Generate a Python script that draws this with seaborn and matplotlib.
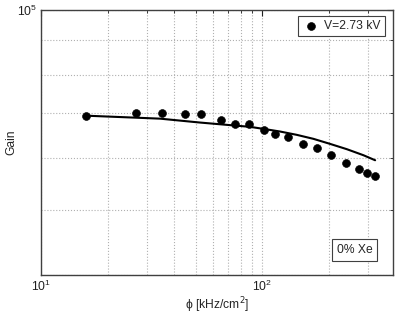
import numpy as np
import pandas as pd
import matplotlib
matplotlib.use("Agg")
import matplotlib.pyplot as plt
import matplotlib.ticker as mticker
import seaborn as sns

flusso = [15.9, 26.9, 35.3, 44.9, 52.6, 64.8, 75.5, 86.7, 101.4, 114,
          130, 153, 176.6, 204, 239.7, 272.5, 298, 323]
guadagno = [69400, 70100, 70100, 69800, 69700, 68470, 67450, 67380, 65990, 65230,
            64410, 62870, 62000, 60520, 58870, 57660, 56870, 56350]

# curva del modello
flusso_fit = [15.8, 34.5, 52.3, 71.4, 88.0, 101.0, 120.2, 143.0, 170.0,
              202.2, 240.6, 286.1, 323]
guadagno_fit = [69400, 68680, 67760, 67160, 66760, 66300, 65690, 64940, 64050,
                62940, 61800, 60520, 59480]

df = pd.DataFrame({"phi": flusso, "gain": guadagno})
df_fit = pd.DataFrame({"phi": flusso_fit, "gain": guadagno_fit})

sns.set_style("white")
plt.rcParams['font.family'] = ['Liberation Sans', 'DejaVu Sans']
fs = 8.7

fig = plt.figure(figsize=(4.09, 3.14), dpi=100)
ax = fig.add_axes([0.1002, 0.1242, 0.8595, 0.844])

sns.lineplot(data=df_fit, x="phi", y="gain", color="black", linewidth=1.5, ax=ax,
             estimator=None, sort=False, zorder=3)
sns.scatterplot(data=df, x="phi", y="gain", color="black", s=32, edgecolor="black",
                ax=ax, label="V=2.73 kV", zorder=4)

ax.set_xscale("log")
ax.set_yscale("log")
ax.set_xlim(10, 387)
ax.set_ylim(4e4, 1e5)

ax.xaxis.set_major_locator(mticker.LogLocator(base=10))
ax.xaxis.set_minor_locator(mticker.LogLocator(base=10, subs=np.arange(2, 10)))
ax.xaxis.set_minor_formatter(mticker.NullFormatter())
ax.yaxis.set_major_locator(mticker.LogLocator(base=10))
ax.yaxis.set_minor_locator(mticker.LogLocator(base=10, subs=np.arange(2, 10)))
ax.yaxis.set_minor_formatter(mticker.NullFormatter())

ax.grid(True, which="both", linestyle=":", color="#b0b0b0", linewidth=0.8)
ax.tick_params(which="both", direction="in", top=True, right=True, labelsize=fs,
               colors="#202020", pad=3)
ax.tick_params(which="major", length=4)
ax.tick_params(which="minor", length=2)

for s in ax.spines.values():
    s.set_color("#404040")
    s.set_linewidth(1.0)

ax.set_xlabel("ϕ [kHz/cm$^2$]", fontsize=fs, labelpad=1)
ax.set_ylabel("Gain", fontsize=fs)
ax.yaxis.set_label_coords(-0.068, 0.5)

leg = ax.legend(loc="upper right", fontsize=fs, fancybox=False, framealpha=1,
                edgecolor="#404040", handletextpad=0.5, handlelength=1.3,
                borderpad=0.35, borderaxespad=0, bbox_to_anchor=(0.979, 0.978))
leg.get_frame().set_linewidth(0.8)

ax.text(0.892, 0.094, "0% Xe", transform=ax.transAxes, fontsize=fs,
        ha="center", va="center",
        bbox=dict(boxstyle="square,pad=0.38", facecolor="white", edgecolor="#404040",
                  linewidth=0.8))

fig.savefig("out.png", dpi=100)
